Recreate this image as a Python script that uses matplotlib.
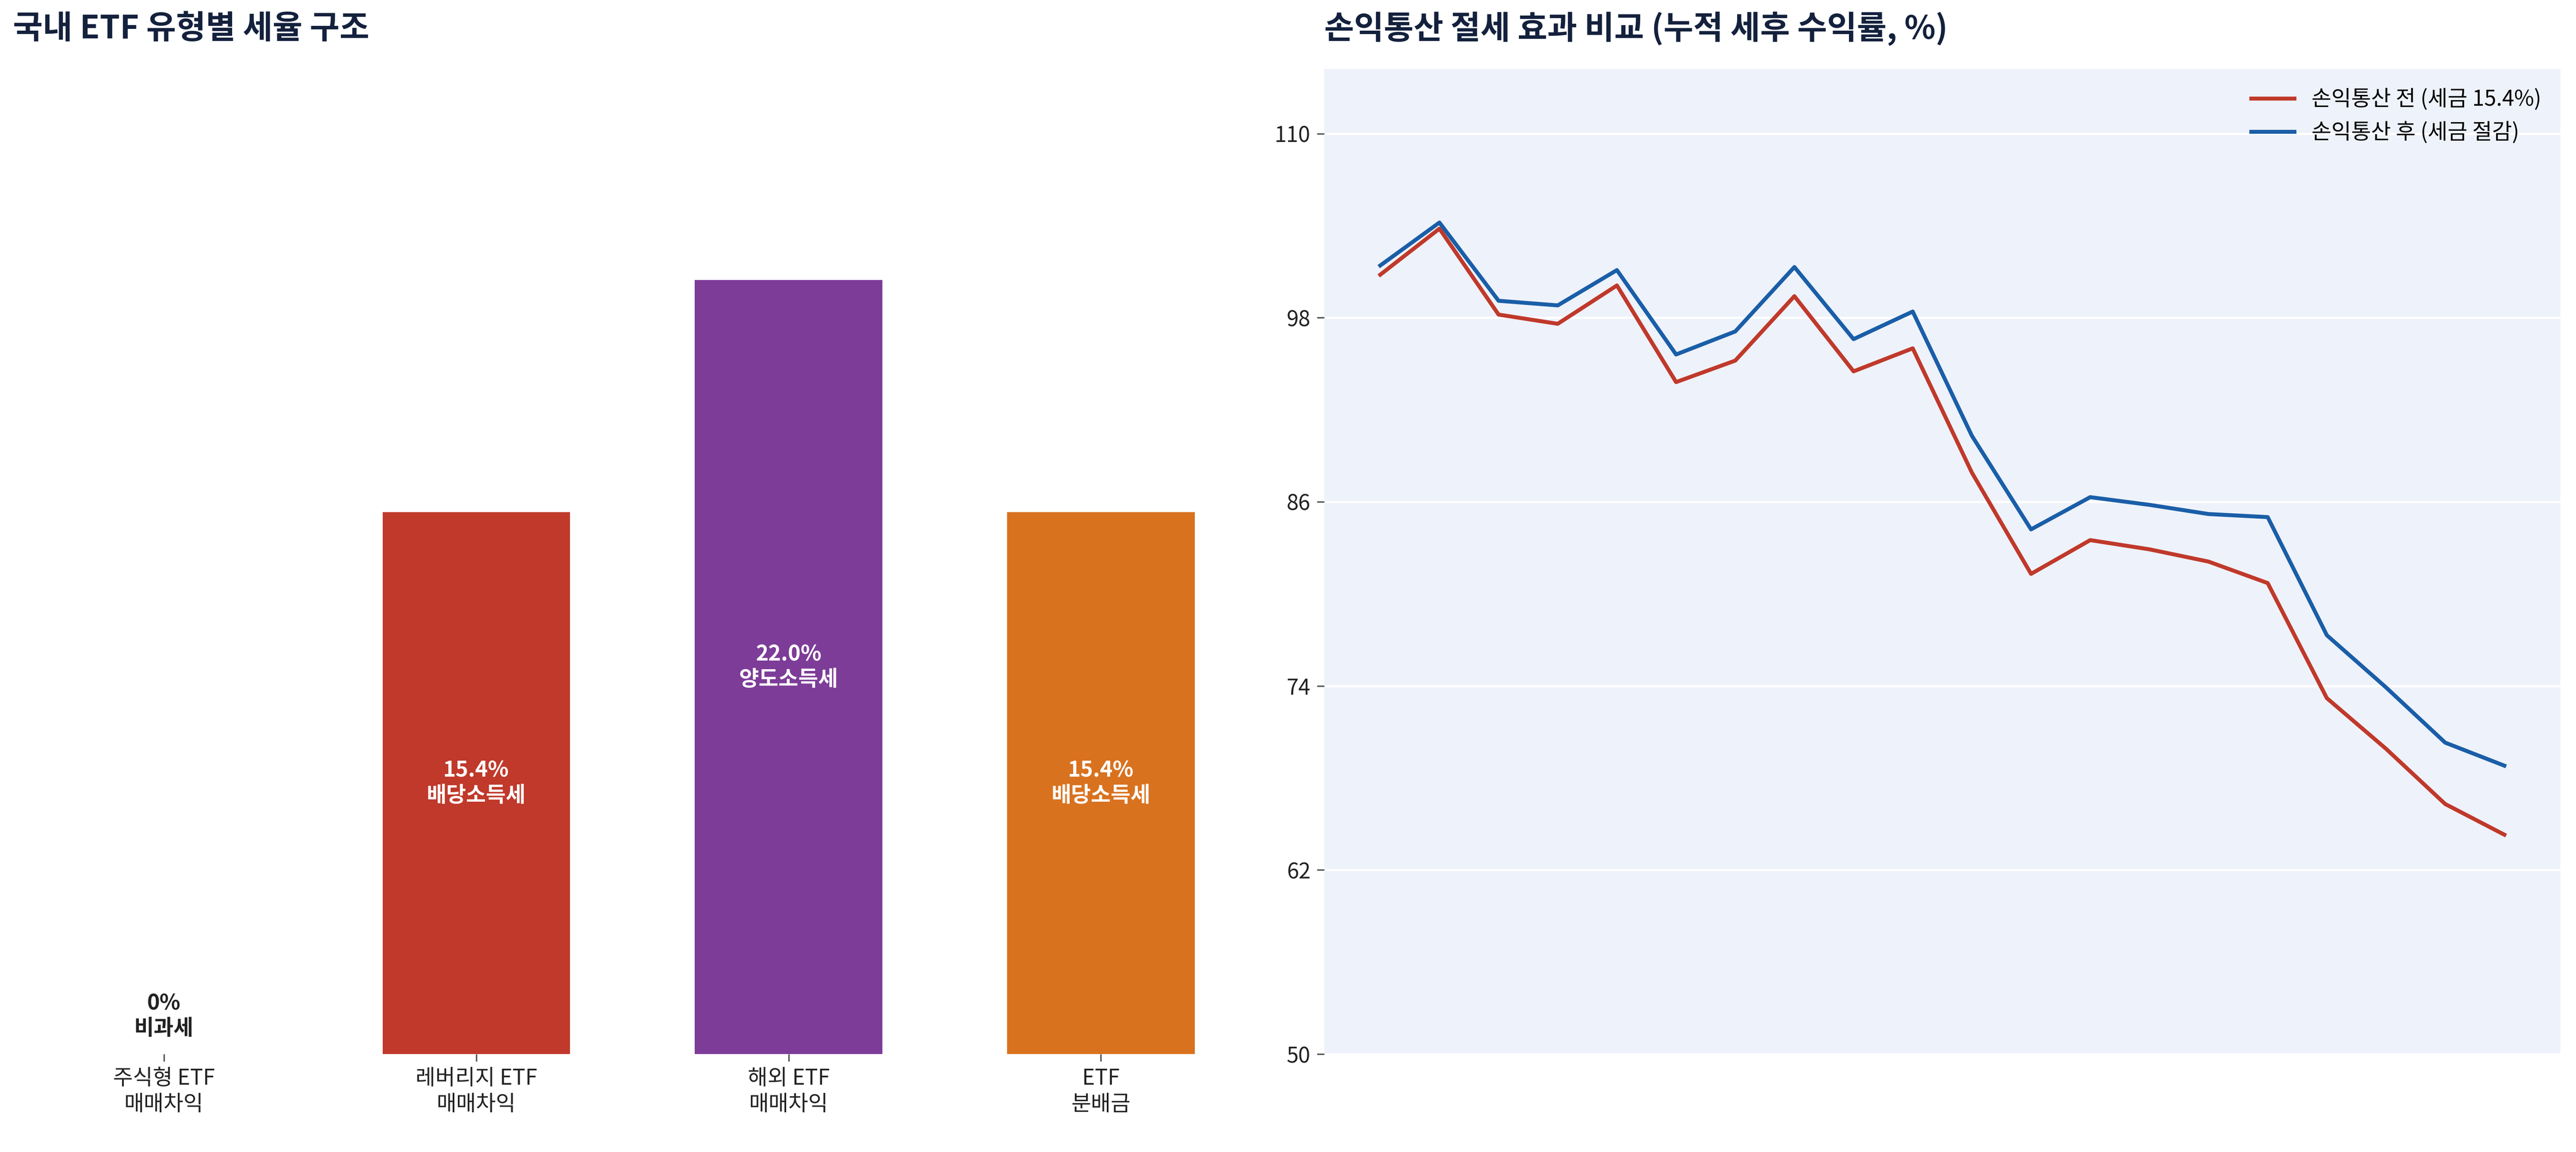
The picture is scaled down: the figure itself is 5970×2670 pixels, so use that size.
import matplotlib
matplotlib.use("Agg")
import matplotlib.pyplot as plt
import numpy as np

plt.rcParams['font.family'] = ['Noto Sans CJK KR', 'DejaVu Sans']

# left: tax rate by ETF type
categories = ["주식형 ETF\n매매차익", "레버리지 ETF\n매매차익", "해외 ETF\n매매차익", "ETF\n분배금"]
rates = [0.0, 15.4, 22.0, 15.4]
tax_names = ["비과세", "배당소득세", "양도소득세", "배당소득세"]
bar_colors = ["#2E86C1", "#C0392B", "#7D3C98", "#D9721F"]

# right: cumulative after-tax return (%)
before = [100.8, 103.8, 98.2, 97.6, 100.1, 93.8, 95.2, 99.4, 94.5, 96.0,
          87.9, 81.3, 83.5, 82.9, 82.1, 80.7, 73.2, 69.9, 66.3, 64.3]
after = [101.4, 104.2, 99.1, 98.8, 101.1, 95.6, 97.1, 101.3, 96.6, 98.4,
         90.3, 84.2, 86.3, 85.8, 85.2, 85.0, 77.3, 73.9, 70.3, 68.8]
yticks = [50, 62, 74, 86, 98, 110]

navy = "#14213D"
fig = plt.figure(figsize=(19.9, 8.9), dpi=300)
ax1 = fig.add_axes([0.003, 0.085, 0.485, 0.855])
ax2 = fig.add_axes([0.514, 0.085, 0.480, 0.855])

x = np.arange(len(categories))
ax1.bar(x, rates, width=0.6, color=bar_colors)
for i, (r, n) in enumerate(zip(rates, tax_names)):
    if r == 0:
        ax1.text(i, 0.4, f"0%\n{n}", ha="center", va="bottom", fontsize=12,
                 fontweight="bold", color="#222222", linespacing=1.2)
    else:
        ax1.text(i, r / 2, f"{r:.1f}%\n{n}", ha="center", va="center", fontsize=12,
                 fontweight="bold", color="white", linespacing=1.2)
ax1.set_xlim(-0.5, 3.5)
ax1.set_ylim(0, 28)
ax1.set_xticks(x)
ax1.set_xticklabels(categories, fontsize=12, color="#222222")
ax1.set_yticks([])
for s in ax1.spines.values():
    s.set_visible(False)
ax1.tick_params(axis="x", length=4, color="#555555")
fig.text(0.005, 0.975, "국내 ETF 유형별 세율 구조", fontsize=18, fontweight="bold",
         color=navy, va="center")

idx = np.arange(len(before))
ax2.set_facecolor("#EEF2FA")
ax2.plot(idx, before, color="#C0392B", lw=2.2, label="손익통산 전 (세금 15.4%)")
ax2.plot(idx, after, color="#1A5EA8", lw=2.2, label="손익통산 후 (세금 절감)")
ax2.set_xlim(-0.95, 19.95)
ax2.set_ylim(50, 114.2)
ax2.set_yticks(yticks)
ax2.set_yticklabels([str(t) for t in yticks], fontsize=12, color="#222222")
ax2.set_xticks([])
ax2.grid(axis="y", color="white", lw=1.2)
ax2.set_axisbelow(True)
for s in ax2.spines.values():
    s.set_visible(False)
ax2.tick_params(axis="y", length=4, color="#555555")
ax2.legend(loc="upper right", frameon=False, fontsize=12)
fig.text(0.514, 0.975, "손익통산 절세 효과 비교 (누적 세후 수익률, %)", fontsize=18,
         fontweight="bold", color=navy, va="center")

fig.savefig("out.png", dpi=300)
